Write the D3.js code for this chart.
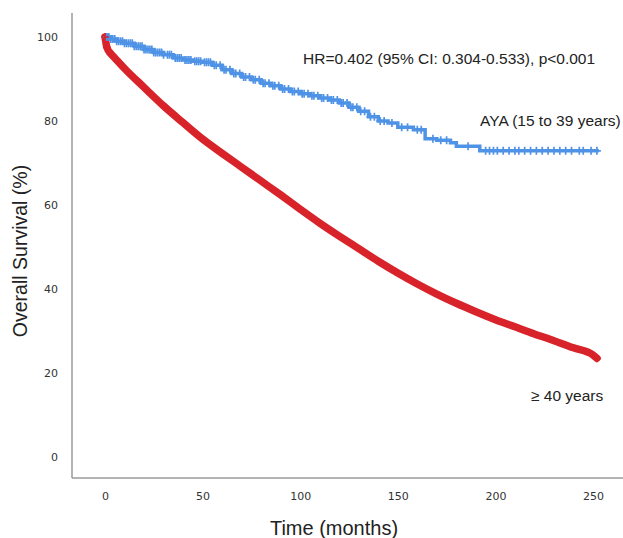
<!DOCTYPE html>
<html>
<head>
<meta charset="utf-8">
<script src="https://cdn.jsdelivr.net/npm/d3@7"></script>
<style>
  html, body { margin: 0; padding: 0; background: #fff; }
  svg { display: block; }
</style>
</head>
<body>
<svg id="chart" width="623" height="538"></svg>
<script>
// ---- Data ----
const xTicks = [0, 50, 100, 150, 200, 250];
const yTicks = [0, 20, 40, 60, 80, 100];

// AYA (15 to 39 years): Kaplan-Meier step points (months, survival %)
const ayaTime = [0, 3, 6, 10, 15, 20, 25, 30, 35, 40, 45, 50, 55, 60, 65, 70, 75, 80, 85, 90, 95, 100, 105, 110, 115, 120, 125, 130, 135, 140, 145, 150, 158, 164, 170, 177, 180, 192, 253];
const ayaSurv = [100, 99.5, 99, 98.5, 97.8, 97, 96.3, 95.8, 95, 94.5, 94.2, 94, 93.3, 92.2, 91.3, 90.5, 89.8, 89, 88.4, 87.6, 87, 86.5, 86, 85.5, 85, 84.3, 83.3, 82.3, 81, 80, 79.5, 78.5, 77.9, 75.8, 75.4, 74.8, 74, 72.9, 72.9];
// AYA censoring times (months)
const ayaCensor = [0, 1, 2, 3, 4, 5, 6, 7, 8, 9, 10, 11, 12, 13, 14, 15, 16, 17, 18, 19, 20, 21, 22, 23, 24, 25, 26, 27, 28, 29, 30, 32, 33, 34, 36, 37, 38, 39, 41, 42, 43, 44, 46, 47, 48, 49, 51, 52, 53, 54, 56, 57, 59, 61, 62, 64, 66, 67, 69, 71, 72, 74, 76, 77, 79, 81, 82, 84, 86, 87, 89, 91, 92, 94, 96, 97, 99, 101, 102, 104, 106, 107, 109, 111, 112, 114, 116, 117, 119, 121, 122, 124, 126, 127, 129, 131, 133, 136, 138, 141, 143, 147, 152, 155, 160, 162, 168, 172, 175, 186, 195, 197, 199, 201, 204, 207, 210, 212, 215, 218, 221, 224, 227, 230, 233, 236, 239, 243, 245, 249, 252];

// >= 40 years
const oldTime = [0, 1, 3, 5, 10, 20, 30, 40, 50, 60, 70, 80, 90, 100, 110, 120, 130, 140, 150, 160, 170, 180, 190, 200, 210, 220, 230, 240, 250, 252];
const oldSurv = [100, 97.5, 96, 95, 92.5, 88, 83.6, 79.6, 75.7, 72.3, 69, 65.7, 62.4, 59, 55.7, 52.6, 49.6, 46.6, 43.8, 41.2, 38.8, 36.6, 34.6, 32.7, 31, 29.3, 27.7, 26, 24.3, 23.5];
const oldCensor = [0, 1, 250, 252];

const hrText = "HR=0.402 (95% CI: 0.304-0.533), p<0.001";
const ayaLabel = "AYA (15 to 39 years)";
const oldLabel = "\u2265 40 years";

// ---- Drawing ----
const svg = d3.select("#chart");
const x = d3.scaleLinear().domain([0, 250]).range([105, 593]);
const y = d3.scaleLinear().domain([0, 100]).range([457, 37]);

const blue = "#4f93e6", red = "#d8232a";

// axes lines
svg.append("line").attr("x1", 72).attr("x2", 72).attr("y1", 13).attr("y2", 478)
  .attr("stroke", "#9a9a9a").attr("stroke-width", 1.5);
svg.append("line").attr("x1", 72).attr("x2", 623).attr("y1", 478).attr("y2", 478)
  .attr("stroke", "#9a9a9a").attr("stroke-width", 1.5);

// axes via d3 axis (ticks hidden, labels only)
const xAxis = svg.append("g").attr("transform", "translate(0,478)")
  .call(d3.axisBottom(x).tickValues(xTicks).tickSize(0).tickPadding(14));
const yAxis = svg.append("g").attr("transform", "translate(72,0)")
  .call(d3.axisLeft(y).tickValues(yTicks).tickSize(0).tickPadding(14));
[xAxis, yAxis].forEach(g => {
  g.select(".domain").remove();
  g.selectAll("text").attr("font-family", "DejaVu Sans, sans-serif")
    .attr("font-size", 11).attr("fill", "#333");
});

// survival lookup for censor marks
function stepAt(times, vals, t) {
  const i = d3.bisectRight(times, t) - 1;
  return vals[Math.max(0, i)];
}
function linAt(times, vals, t) {
  const i = Math.min(times.length - 2, Math.max(0, d3.bisectRight(times, t) - 1));
  const f = (t - times[i]) / (times[i + 1] - times[i]);
  return vals[i] + f * (vals[i + 1] - vals[i]);
}

// >= 40 curve (very dense, appears smooth and thick)
const oldData = oldTime.map((t, i) => [t, oldSurv[i]]);
svg.append("path").datum(oldData)
  .attr("d", d3.line().x(d => x(d[0])).y(d => y(d[1])).curve(d3.curveMonotoneX))
  .attr("fill", "none").attr("stroke", red).attr("stroke-width", 7.5)
  .attr("stroke-linejoin", "round").attr("stroke-linecap", "round");

// AYA curve
const ayaData = ayaTime.map((t, i) => [t, ayaSurv[i]]);
svg.append("path").datum(ayaData)
  .attr("d", d3.line().x(d => x(d[0])).y(d => y(d[1])).curve(d3.curveStepAfter))
  .attr("fill", "none").attr("stroke", blue).attr("stroke-width", 3.5);

// censor marks
function plus(g, cx, cy, color, s) {
  g.append("path")
    .attr("d", `M${cx - s},${cy}H${cx + s}M${cx},${cy - s}V${cy + s}`)
    .attr("stroke", color).attr("stroke-width", 1.7).attr("fill", "none");
}
const cg = svg.append("g");
ayaCensor.forEach(t => plus(cg, x(t), y(stepAt(ayaTime, ayaSurv, t)), blue, 4));
oldCensor.forEach(t => plus(cg, x(t), y(linAt(oldTime, oldSurv, t)), red, 4));

// annotations
const txt = (s, xx, yy, size) => svg.append("text").attr("x", xx).attr("y", yy)
  .attr("font-family", "Liberation Sans, Arial, sans-serif").attr("font-size", size)
  .attr("fill", "#222").text(s);
txt(hrText, 303, 64, 15.5);
txt(ayaLabel, 480, 126, 15.5);
txt(oldLabel, 531, 401, 15.5);

// axis titles
svg.append("text").attr("x", 334).attr("y", 535).attr("text-anchor", "middle")
  .attr("font-family", "Liberation Sans, Arial, sans-serif").attr("font-size", 20)
  .attr("fill", "#222").text("Time (months)");
svg.append("text").attr("transform", "translate(27,251) rotate(-90)")
  .attr("text-anchor", "middle")
  .attr("font-family", "Liberation Sans, Arial, sans-serif").attr("font-size", 19.5)
  .attr("fill", "#222").text("Overall Survival (%)");
</script>
</body>
</html>
